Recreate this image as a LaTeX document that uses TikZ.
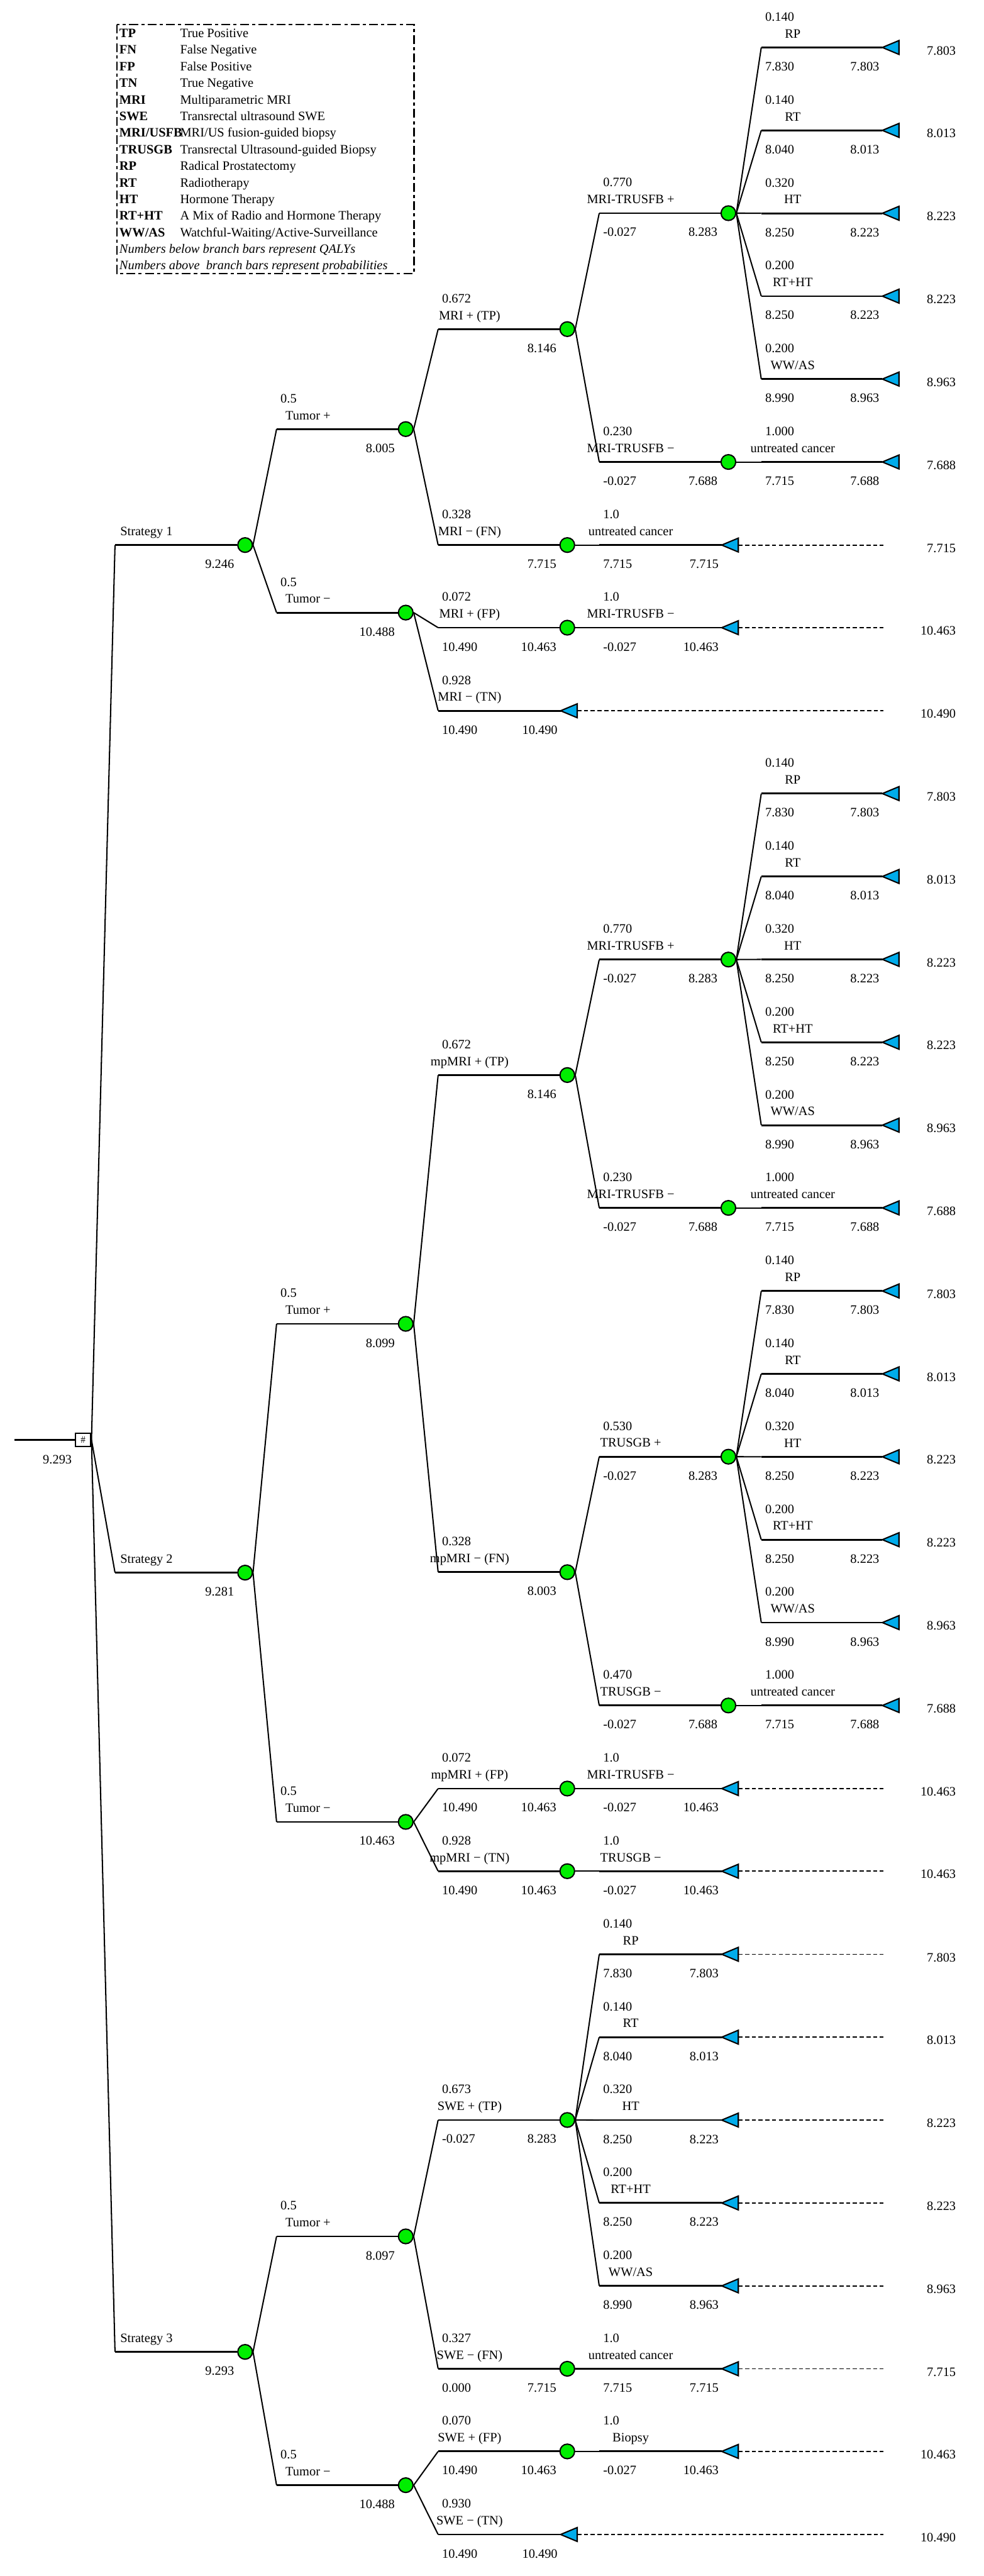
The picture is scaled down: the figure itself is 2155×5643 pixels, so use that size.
\documentclass[tikz,border=0pt]{standalone}
\usepackage{fontspec}
\setmainfont{Liberation Serif}
\definecolor{chgreen}{RGB}{0,238,0}
\definecolor{termblue}{RGB}{0,172,235}
\tikzset{
  txt/.style      = {font=\fontsize{8}{9.6}\selectfont, inner sep=0pt},
  bar/.style      = {line width=1.1pt},
  slant/.style    = {line width=0.8pt},
  chance/.style   = {circle, draw, fill=chgreen, line width=0.8pt,
                     minimum size=0.32cm, inner sep=0pt},
  decis/.style    = {rectangle, draw, fill=white, line width=0.8pt,
                     minimum width=0.34cm, minimum height=0.29cm, inner sep=0pt,
                     font=\fontsize{6}{6}\selectfont},
  % terminal: an empty box, the triangle is drawn inside it
  termbox/.style  = {rectangle, minimum width=0.35cm, minimum height=0.29cm, inner sep=0pt},
  termtri/.style  = {draw, fill=termblue, line width=0.8pt},
  tail/.style     = {line width=0.7pt, dash pattern=on 2.6pt off 1.6pt},
  legframe/.style = {line width=0.9pt, dash pattern=on 5.5pt off 2pt on 2pt off 2pt},
}
% terminal node with its tip at (#2,#3), payoff #4 in the right margin
\newcommand\leaf[4]{%
  \node[termbox] (#1) at (#2+17.5,#3) {};
  \filldraw[termtri] (#1.west) -- (#1.north east) -- (#1.south east) -- cycle;
  \node[txt, anchor=base east] (#1-pay) at (2095,#3+16) {#4};}
% same, carried out to the margin by a dashed tail
\newcommand\leaftail[4]{%
  \leaf{#1}{#2}{#3}{#4}%
  \coordinate (#1-end) at (1935,#3);
  \draw[tail] (#1.east) -- (#1-end);}
% branch #1 -> #2, bar from (#3,#4): probability, name, value left, value right
\newcommand\branch[8]{%
  \coordinate (#2-bend) at (#3,#4);
  \draw[slant] (#1.east) -- (#2-bend);
  \draw[bar] (#2-bend) -- (#2.west);
  \node[txt, anchor=base west] (#2-pr) at (#3+8,#4-58) {#5};
  \node[txt, anchor=base]      (#2-nm) at (#3+69,#4-21) {#6};
  \node[txt, anchor=base west] (#2-lv) at (#3+8,#4+51) {#7};
  \node[txt, anchor=base east] (#2-rv) at ([shift={(-6,51)}]#2.west) {#8};}
% the five treatments of chance node #1: prefix, bar x, tip x, first row, leaf macro
\newcommand\treatments[6]{%
  \foreach \tn/\tl/\tp/\tq/\tv [count=\k from 0] in
    {rp/RP/0.140/7.830/7.803, rt/RT/0.140/8.040/8.013, ht/HT/0.320/8.250/8.223,
     rh/RT+HT/0.200/8.250/8.223, ww/{WW/AS}/0.200/8.990/8.963}{
    \pgfmathsetmacro\ty{#5+181.6*\k}
    #6{#2\tn}{#4}{\ty}{\tv}
    \branch{#1}{#2\tn}{#3}{\ty}{\tp}{\tl}{\tq}{\tv}
  }}

\begin{document}
\begin{tikzpicture}[x=0.01cm, y=-0.01cm]
  \useasboundingbox (0,0) rectangle (2155,5643);

  % legend
  \draw[legframe] (256,54) rectangle (907,599);
  \foreach \ab/\de [count=\i from 0] in
    {TP/True Positive, FN/False Negative, FP/False Positive, TN/True Negative,
     MRI/Multiparametric MRI, SWE/Transrectal ultrasound SWE,
     {MRI/USFB}/{MRI/US fusion-guided biopsy}, TRUSGB/Transrectal Ultrasound-guided Biopsy,
     RP/Radical Prostatectomy, RT/Radiotherapy, HT/Hormone Therapy,
     RT+HT/A Mix of Radio and Hormone Therapy, {WW/AS}/{Watchful-Waiting/Active-Surveillance}}{
    \node[txt, anchor=base west, font=\fontsize{8}{9.6}\selectfont\bfseries] (ab\i) at (261,82+36.36*\i) {\ab};
    \node[txt, anchor=base west] (de\i) at (394,82+36.36*\i) {\de};
  }
  \node[txt, anchor=base west, font=\fontsize{8}{9.6}\selectfont\itshape] (note1) at (261,554.7)
    {Numbers below branch bars represent QALYs};
  \node[txt, anchor=base west, font=\fontsize{8}{9.6}\selectfont\itshape] (note2) at (261,591)
    {Numbers above\ \ branch bars represent probabilities};

  % decision node
  \node[decis] (root) at (182,3154) {\#};
  \coordinate (entry) at (32,3154);
  \draw[bar] (entry) -- (root.west);
  \node[txt, anchor=base east] (root-v) at (158,3207) {9.293};

  % ---- strategy 1
  \node[chance] (s1)    at (537,1194) {};
  \node[chance] (s1pos) at (889,940)  {};
  \node[chance] (s1neg) at (889,1342) {};
  \node[chance] (s1tp)  at (1243,721) {};
  \node[chance] (s1fn)  at (1243,1194) {};
  \node[chance] (s1fp)  at (1243,1375) {};
  \node[chance] (s1bp)  at (1596,467) {};
  \node[chance] (s1bn)  at (1596,1012) {};
  \leaf{s1bnu}{1934}{1012}{7.688}
  \leaftail{s1fnu}{1582}{1194}{7.715}
  \leaftail{s1fpb}{1582}{1375}{10.463}
  \leaftail{s1tn}{1229}{1557}{10.490}

  \branch{root}{s1}{252}{1194}{}{Strategy 1}{}{9.246}
  \branch{s1}{s1pos}{606}{940}{0.5}{Tumor +}{}{8.005}
  \branch{s1pos}{s1tp}{960}{721}{0.672}{MRI + (TP)}{}{8.146}
  \branch{s1tp}{s1bp}{1313}{467}{0.770}{MRI-TRUSFB +}{-0.027}{8.283}
  \treatments{s1bp}{s1}{1668}{1934}{104}{\leaf}
  \branch{s1tp}{s1bn}{1313}{1012}{0.230}{MRI-TRUSFB −}{-0.027}{7.688}
  \branch{s1bn}{s1bnu}{1668}{1012}{1.000}{untreated cancer}{7.715}{7.688}
  \branch{s1pos}{s1fn}{960}{1194}{0.328}{MRI − (FN)}{}{7.715}
  \branch{s1fn}{s1fnu}{1313}{1194}{1.0}{untreated cancer}{7.715}{7.715}
  \branch{s1}{s1neg}{606}{1342}{0.5}{Tumor −}{}{10.488}
  \branch{s1neg}{s1fp}{960}{1375}{0.072}{MRI + (FP)}{10.490}{10.463}
  \branch{s1fp}{s1fpb}{1313}{1375}{1.0}{MRI-TRUSFB −}{-0.027}{10.463}
  \branch{s1neg}{s1tn}{960}{1557}{0.928}{MRI − (TN)}{10.490}{10.490}

  % ---- strategy 2
  \node[chance] (s2)    at (537,3445) {};
  \node[chance] (s2pos) at (889,2900) {};
  \node[chance] (s2neg) at (889,3991) {};
  \node[chance] (s2tp)  at (1243,2355) {};
  \node[chance] (s2fn)  at (1243,3444) {};
  \node[chance] (s2fp)  at (1243,3918) {};
  \node[chance] (s2tn)  at (1243,4099) {};
  \node[chance] (s2bp)  at (1596,2102) {};
  \node[chance] (s2bn)  at (1596,2646) {};
  \node[chance] (s2gp)  at (1596,3191) {};
  \node[chance] (s2gn)  at (1596,3736) {};
  \leaf{s2bnu}{1934}{2646}{7.688}
  \leaf{s2gnu}{1934}{3736}{7.688}
  \leaftail{s2fpb}{1582}{3918}{10.463}
  \leaftail{s2tng}{1582}{4099}{10.463}

  \branch{root}{s2}{252}{3445}{}{Strategy 2}{}{9.281}
  \branch{s2}{s2pos}{606}{2900}{0.5}{Tumor +}{}{8.099}
  \branch{s2pos}{s2tp}{960}{2355}{0.672}{mpMRI + (TP)}{}{8.146}
  \branch{s2tp}{s2bp}{1313}{2102}{0.770}{MRI-TRUSFB +}{-0.027}{8.283}
  \treatments{s2bp}{s2m}{1668}{1934}{1738.4}{\leaf}
  \branch{s2tp}{s2bn}{1313}{2646}{0.230}{MRI-TRUSFB −}{-0.027}{7.688}
  \branch{s2bn}{s2bnu}{1668}{2646}{1.000}{untreated cancer}{7.715}{7.688}
  \branch{s2pos}{s2fn}{960}{3444}{0.328}{mpMRI − (FN)}{}{8.003}
  \branch{s2fn}{s2gp}{1313}{3191}{0.530}{TRUSGB +}{-0.027}{8.283}
  \treatments{s2gp}{s2g}{1668}{1934}{2828}{\leaf}
  \branch{s2fn}{s2gn}{1313}{3736}{0.470}{TRUSGB −}{-0.027}{7.688}
  \branch{s2gn}{s2gnu}{1668}{3736}{1.000}{untreated cancer}{7.715}{7.688}
  \branch{s2}{s2neg}{606}{3991}{0.5}{Tumor −}{}{10.463}
  \branch{s2neg}{s2fp}{960}{3918}{0.072}{mpMRI + (FP)}{10.490}{10.463}
  \branch{s2fp}{s2fpb}{1313}{3918}{1.0}{MRI-TRUSFB −}{-0.027}{10.463}
  \branch{s2neg}{s2tn}{960}{4099}{0.928}{mpMRI − (TN)}{10.490}{10.463}
  \branch{s2tn}{s2tng}{1313}{4099}{1.0}{TRUSGB −}{-0.027}{10.463}

  % ---- strategy 3
  \node[chance] (s3)    at (537,5152) {};
  \node[chance] (s3pos) at (889,4899) {};
  \node[chance] (s3neg) at (889,5444) {};
  \node[chance] (s3tp)  at (1243,4644) {};
  \node[chance] (s3fn)  at (1243,5189) {};
  \node[chance] (s3fp)  at (1243,5370) {};
  \leaftail{s3fnu}{1582}{5189}{7.715}
  \leaftail{s3fpb}{1582}{5370}{10.463}
  \leaftail{s3tn}{1229}{5552}{10.490}

  \branch{root}{s3}{252}{5152}{}{Strategy 3}{}{9.293}
  \branch{s3}{s3pos}{606}{4899}{0.5}{Tumor +}{}{8.097}
  \branch{s3pos}{s3tp}{960}{4644}{0.673}{SWE + (TP)}{-0.027}{8.283}
  \treatments{s3tp}{s3}{1313}{1582}{4281}{\leaftail}
  \branch{s3pos}{s3fn}{960}{5189}{0.327}{SWE − (FN)}{0.000}{7.715}
  \branch{s3fn}{s3fnu}{1313}{5189}{1.0}{untreated cancer}{7.715}{7.715}
  \branch{s3}{s3neg}{606}{5444}{0.5}{Tumor −}{}{10.488}
  \branch{s3neg}{s3fp}{960}{5370}{0.070}{SWE + (FP)}{10.490}{10.463}
  \branch{s3fp}{s3fpb}{1313}{5370}{1.0}{Biopsy}{-0.027}{10.463}
  \branch{s3neg}{s3tn}{960}{5552}{0.930}{SWE − (TN)}{10.490}{10.490}
\end{tikzpicture}
\end{document}
